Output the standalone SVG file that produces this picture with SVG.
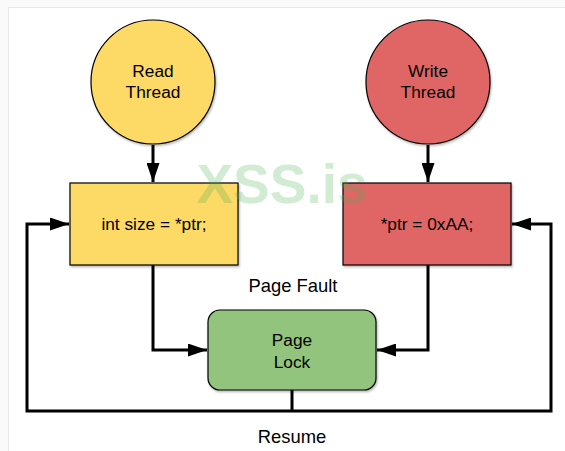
<svg xmlns="http://www.w3.org/2000/svg" width="565" height="451" viewBox="0 0 565 451">
<style>
.t{font-family:"Liberation Sans",Arial,sans-serif;font-size:17.3px;fill:#000;text-anchor:middle}
.l{font-size:18.4px}
.n{stroke:#000;stroke-width:1.2}
.c{fill:none;stroke:#000;stroke-width:3}
</style>
<defs>
<marker id="a" viewBox="0 0 19 13" refX="19" refY="6.5" markerWidth="19" markerHeight="13" orient="auto" markerUnits="userSpaceOnUse">
<path d="M0,0 L19,6.5 L0,13 z" fill="#000"/>
</marker>
<filter id="sh" x="-10%" y="-10%" width="130%" height="130%">
<feDropShadow dx="1" dy="1.5" stdDeviation="1" flood-opacity="0.3"/>
</filter>
</defs>
<rect x="0" y="0" width="565" height="451" fill="#fafafa"/>
<rect x="8.5" y="7.5" width="570" height="460" fill="#fff" stroke="#e8e8e8"/>
<g id="connectors">
<path class="c" d="M153,145 V182" marker-end="url(#a)"/>
<path class="c" d="M428,145 V182" marker-end="url(#a)"/>
<path class="c" d="M153,265 V350 H207" marker-end="url(#a)"/>
<path class="c" d="M428,265 V350 H377" marker-end="url(#a)"/>
<path class="c" d="M292,390 V411"/>
<path class="c" d="M292,411 H27 V224 H69" marker-end="url(#a)"/>
<path class="c" d="M292,411 H551 V224 H512" marker-end="url(#a)"/>
</g>
<g id="read-thread">
<ellipse class="n" cx="153" cy="82" rx="62" ry="62" fill="#fdd966" filter="url(#sh)"/>
<text class="t" x="153" y="77">Read</text>
<text class="t" x="153" y="98">Thread</text>
</g>
<g id="write-thread">
<ellipse class="n" cx="428" cy="82" rx="62" ry="62" fill="#e06666" filter="url(#sh)"/>
<text class="t" x="428" y="77">Write</text>
<text class="t" x="428" y="98">Thread</text>
</g>
<g id="read-op">
<rect class="n" x="70" y="183" width="168" height="82" fill="#fdd966" filter="url(#sh)"/>
<text class="t" x="154" y="230">int size = *ptr;</text>
</g>
<g id="write-op">
<rect class="n" x="343" y="183" width="168" height="82" fill="#e06666" filter="url(#sh)"/>
<text class="t" x="427" y="230">*ptr = 0xAA;</text>
</g>
<g id="page-lock">
<rect class="n" x="208" y="310" width="168" height="80" rx="12" fill="#93c47d" filter="url(#sh)"/>
<text class="t" x="292" y="346">Page</text>
<text class="t" x="292" y="368">Lock</text>
</g>
<text class="t l" x="293" y="292">Page Fault</text>
<text class="t l" x="292" y="443">Resume</text>
<text x="282" y="203" font-family="Liberation Sans,Arial,sans-serif" font-weight="bold" font-size="55" text-anchor="middle" fill="#4caf50" fill-opacity="0.25">XSS.is</text>
</svg>
